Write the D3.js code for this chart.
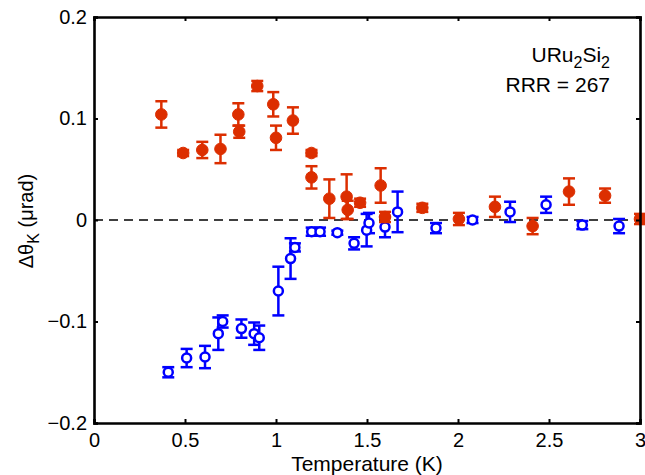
<!DOCTYPE html>
<html>
<head>
<meta charset="utf-8">
<script src="https://cdn.jsdelivr.net/npm/d3@7"></script>
<style>
  body { margin: 0; background: #fff; }
  text { font-family: "Liberation Sans", Arial, Helvetica, sans-serif; }
</style>
</head>
<body>
<div id="chart"></div>
<script>
// datos: temperatura (K), delta theta_K (urad), error
var rojoT   = [0.37, 0.49, 0.595, 0.695, 0.793, 0.798, 0.897, 0.985, 1.0, 1.093, 1.195, 1.195, 1.293, 1.388, 1.394, 1.462, 1.575, 1.599, 1.804, 2.005, 2.203, 2.41, 2.61, 2.808, 3.0];
var rojoY   = [0.104, 0.066, 0.069, 0.070, 0.104, 0.087, 0.132, 0.114, 0.081, 0.098, 0.066, 0.042, 0.021, 0.023, 0.010, 0.017, 0.034, 0.003, 0.012, 0.001, 0.013, -0.006, 0.028, 0.024, 0.001];
var rojoErr = [0.013, 0.003, 0.008, 0.014, 0.011, 0.006, 0.005, 0.012, 0.012, 0.013, 0.003, 0.011, 0.019, 0.022, 0.009, 0.004, 0.017, 0.005, 0.004, 0.006, 0.010, 0.008, 0.013, 0.007, 0.005];

var azulT   = [0.408, 0.509, 0.61, 0.683, 0.707, 0.81, 0.88, 0.908, 1.013, 1.08, 1.104, 1.196, 1.242, 1.337, 1.429, 1.498, 1.511, 1.599, 1.668, 1.879, 2.08, 2.286, 2.484, 2.683, 2.885];
var azulY   = [-0.150, -0.136, -0.135, -0.112, -0.100, -0.107, -0.112, -0.116, -0.070, -0.038, -0.027, -0.0115, -0.0115, -0.0125, -0.023, -0.010, -0.003, -0.007, 0.008, -0.008, 0.000, 0.008, 0.015, -0.005, -0.006];
var azulErr = [0.005, 0.009, 0.011, 0.016, 0.006, 0.009, 0.011, 0.012, 0.024, 0.020, 0.004, 0.004, 0.004, 0.002, 0.006, 0.016, 0.010, 0.010, 0.020, 0.005, 0.003, 0.010, 0.008, 0.004, 0.007];

var ticksX = [0, 0.5, 1, 1.5, 2, 2.5, 3];
var ticksY = [-0.2, -0.1, 0, 0.1, 0.2];

var width = 645, height = 475;
var margin = {top: 17, right: 5, bottom: 52, left: 94};

var svg = d3.select("#chart").append("svg")
    .attr("width", width)
    .attr("height", height);

var x = d3.scaleLinear().domain([0, 3]).range([margin.left, width - margin.right]);
var y = d3.scaleLinear().domain([-0.2, 0.2]).range([height - margin.bottom, margin.top]);

var formato = function(d) { return d3.format("")(d).replace("-", "\u2212"); };

// linea de cero punteada
svg.append("line")
    .attr("x1", x(0)).attr("x2", x(3))
    .attr("y1", y(0)).attr("y2", y(0))
    .attr("stroke", "#000")
    .attr("stroke-width", 1.3)
    .attr("stroke-dasharray", "9,6");

function serie(T, Y, E, color, relleno) {
  var datos = T.map(function(t, i) { return {t: t, v: Y[i], e: E[i]}; });
  var g = svg.append("g");
  var barras = g.selectAll(".eb").data(datos).enter().append("g")
      .attr("stroke", color).attr("stroke-width", 2.5);
  barras.append("line")
      .attr("x1", function(d) { return x(d.t); })
      .attr("x2", function(d) { return x(d.t); })
      .attr("y1", function(d) { return y(d.v - d.e); })
      .attr("y2", function(d) { return y(d.v + d.e); });
  barras.append("line")
      .attr("x1", function(d) { return x(d.t) - 6; })
      .attr("x2", function(d) { return x(d.t) + 6; })
      .attr("y1", function(d) { return y(d.v - d.e); })
      .attr("y2", function(d) { return y(d.v - d.e); });
  barras.append("line")
      .attr("x1", function(d) { return x(d.t) - 6; })
      .attr("x2", function(d) { return x(d.t) + 6; })
      .attr("y1", function(d) { return y(d.v + d.e); })
      .attr("y2", function(d) { return y(d.v + d.e); });
  g.selectAll("circle").data(datos).enter().append("circle")
      .attr("cx", function(d) { return x(d.t); })
      .attr("cy", function(d) { return y(d.v); })
      .attr("r", relleno ? 5.8 : 4.5)
      .attr("fill", relleno ? color : "#fff")
      .attr("stroke", color)
      .attr("stroke-width", relleno ? 1 : 2.5);
}

serie(azulT, azulY, azulErr, "#0000ff", false);
serie(rojoT, rojoY, rojoErr, "#dc2e00", true);

// ejes (caja completa, ticks hacia adentro)
var ejeAbajo = svg.append("g")
    .attr("transform", "translate(0," + y(-0.2) + ")")
    .call(d3.axisBottom(x).tickValues(ticksX).tickSize(-4).tickPadding(10).tickFormat(formato));
var ejeIzq = svg.append("g")
    .attr("transform", "translate(" + x(0) + ",0)")
    .call(d3.axisLeft(y).tickValues(ticksY).tickSize(-4).tickPadding(7).tickFormat(formato));
var ejeArriba = svg.append("g")
    .attr("transform", "translate(0," + y(0.2) + ")")
    .call(d3.axisTop(x).tickValues(ticksX).tickSize(-4).tickFormat(""));
var ejeDer = svg.append("g")
    .attr("transform", "translate(" + x(3) + ",0)")
    .call(d3.axisRight(y).tickValues(ticksY).tickSize(-4).tickFormat(""));

[ejeAbajo, ejeIzq, ejeArriba, ejeDer].forEach(function(e) {
  e.select(".domain").attr("stroke", "#000").attr("stroke-width", 2.6);
  e.selectAll(".tick line").attr("stroke", "#000").attr("stroke-width", 2);
  e.selectAll("text").attr("fill", "#000").style("font-size", "20px")
    .style("font-family", "'Liberation Sans', Arial, sans-serif");
});
ejeAbajo.selectAll("text").attr("dy", "0.71em");

// etiquetas
svg.append("text")
    .attr("x", (x(0) + x(3)) / 2)
    .attr("y", 471)
    .attr("text-anchor", "middle")
    .style("font-size", "21px")
    .text("Temperature (K)");

var ylab = svg.append("text")
    .attr("transform", "translate(33,221) rotate(-90)")
    .attr("text-anchor", "middle")
    .style("font-size", "20px");
ylab.append("tspan").text("\u0394\u03b8");
ylab.append("tspan").attr("dy", 6).style("font-size", "16px").text("K");
ylab.append("tspan").attr("dy", -6).text(" (\u03bcrad)");

var t1 = svg.append("text")
    .attr("x", 610).attr("y", 62)
    .attr("text-anchor", "end")
    .style("font-size", "21px");
t1.append("tspan").text("URu");
t1.append("tspan").attr("dy", 6).style("font-size", "16px").text("2");
t1.append("tspan").attr("dy", -6).text("Si");
t1.append("tspan").attr("dy", 6).style("font-size", "16px").text("2");

svg.append("text")
    .attr("x", 610).attr("y", 92)
    .attr("text-anchor", "end")
    .style("font-size", "21px")
    .text("RRR = 267");
</script>
</body>
</html>
